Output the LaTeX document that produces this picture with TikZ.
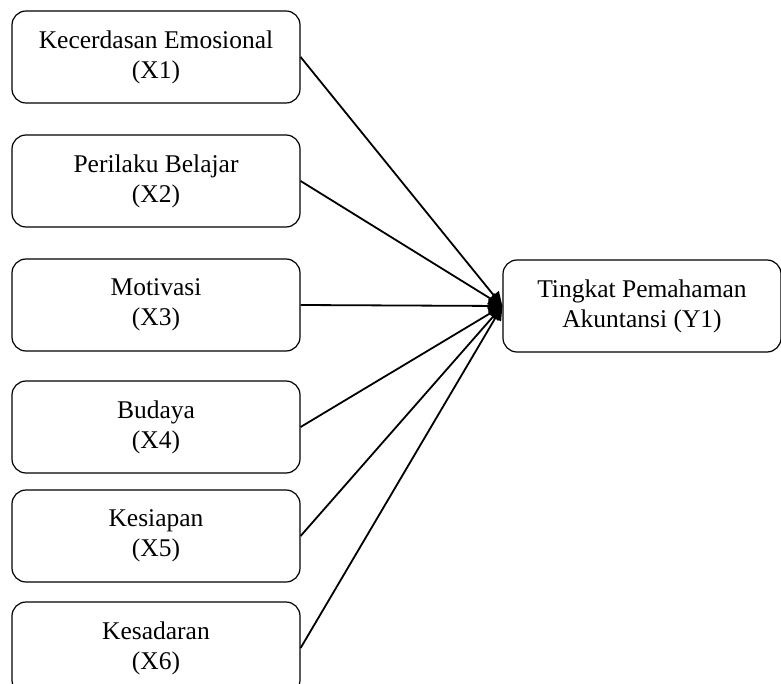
\documentclass[tikz,border=0pt]{standalone}
\usepackage{fontspec}
\setmainfont{Liberation Serif}
\usetikzlibrary{arrows.meta}

\tikzset{
  varbox/.style={draw, line width=1.2pt, rounded corners=14pt,
    minimum width=288pt, minimum height=92pt, inner sep=0pt,
    align=center, font=\fontsize{25.5}{30}\selectfont},
  pengaruh/.style={line width=1.8pt, -{Triangle[length=14pt,width=13pt]}}
}

\begin{document}
\begin{tikzpicture}[x=1pt,y=1pt]
          \useasboundingbox (0,0) rectangle (781,-684);

          % Variabel bebas (X1 - X6)
          \foreach \n/\y/\teks in {
              1/57/Kecerdasan Emosional,
              2/181/Perilaku Belajar,
              3/305/Motivasi,
              4/427/Budaya,
              5/536/Kesiapan,
              6/648/Kesadaran
          } {
              \node[varbox] (x\n) at (156,-\y) {\teks\\(X\n)};
          }
          % Variabel terikat
          \node[varbox, minimum width=278pt] (y1) at (642,-306) {Tingkat Pemahaman\\Akuntansi (Y1)};

          \foreach \n in {1,...,6} {
              \draw[pengaruh] (x\n.east) -- (y1.west);
          }
      \end{tikzpicture}
\end{document}
